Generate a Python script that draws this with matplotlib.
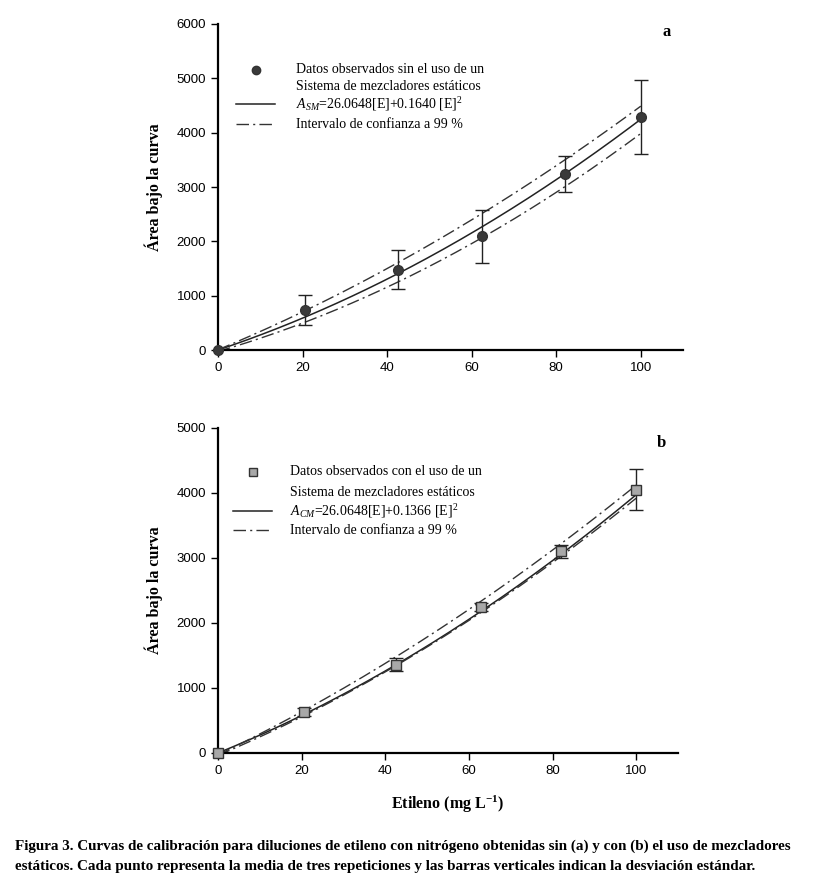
import numpy as np
import matplotlib
matplotlib.use('Agg')
import matplotlib.pyplot as plt

# Panel a: without static mixers
x_a = [0, 20.5, 42.5, 62.5, 82, 100]
y_a = [0, 740, 1480, 2090, 3240, 4290]
err_a = [0, 280, 355, 495, 325, 680]
coef_a = (26.0648, 0.1640)
band_x = [0, 20, 40, 60, 80, 100]
upper_a = [0, 700, 1520, 2390, 3370, 4500]
lower_a = [0, 460, 1140, 1960, 2960, 3950]

# Panel b: with static mixers
x_b = [0, 20.5, 42.5, 63, 82, 100]
y_b = [0, 630, 1360, 2240, 3100, 4050]
err_b = [0, 60, 105, 60, 95, 315]
coef_b = (26.0648, 0.1366)
upper_b = [0, 600, 1345, 2235, 3165, 4090]
lower_b = [0, 510, 1205, 2075, 2985, 3880]

serif = ['Liberation Serif', 'DejaVu Serif']
sans = ['Liberation Sans', 'DejaVu Sans']
plt.rcParams['font.family'] = sans
plt.rcParams['mathtext.fontset'] = 'custom'
plt.rcParams['mathtext.it'] = 'Liberation Serif:italic'
plt.rcParams['mathtext.rm'] = 'Liberation Serif'


def smooth(xs, ys):
    # quadratic through the read band values
    c = np.polyfit(xs, ys, 2)
    xx = np.linspace(0, 100, 200)
    return xx, np.polyval(c, xx)


def panel(ax, x, y, err, coef, up, lo, ymax, letter, marker, mfc, label1, eq):
    xx = np.linspace(0, 100, 200)
    ax.plot(xx, coef[0] * xx + coef[1] * xx ** 2, color='#222222', lw=1.1)
    for band in (up, lo):
        bx, by = smooth(band_x, band)
        ax.plot(bx, by, color='#333333', lw=1.0, dashes=(9, 3, 1.5, 3))
    ax.errorbar(x, y, yerr=err, fmt='none', ecolor='#222222', elinewidth=1.0,
                capsize=5, capthick=1.0)
    ax.plot(x, y, marker, color=mfc, mec='#333333', ms=7 if marker == 'o' else 6.5,
            mew=1.0, ls='none', zorder=5, clip_on=False)

    ax.set_xlim(0, 110)
    ax.set_ylim(0, ymax)
    ax.set_xticks([0, 20, 40, 60, 80, 100])
    ax.set_yticks(np.arange(0, ymax + 1, 1000))
    ax.spines['top'].set_visible(False)
    ax.spines['right'].set_visible(False)
    ax.spines['left'].set_linewidth(1.6)
    ax.spines['bottom'].set_linewidth(1.6)
    ax.tick_params(direction='out', length=5, width=1.0, labelsize=9.5)
    ax.set_ylabel('Área bajo la curva', family=serif, fontweight='bold', fontsize=11.5,
                  labelpad=10)
    ax.text(0.965, 0.975 if letter == 'a' else 0.955, letter, transform=ax.transAxes,
            family=serif, fontweight='bold', fontsize=12, ha='center', va='center')

    # legend drawn by hand
    tr = ax.transAxes
    mx, tx = (0.0817, 0.168) if letter == 'a' else (0.076, 0.157)
    rows = [0.860, 0.809, 0.755, 0.693] if letter == 'a' else [0.865, 0.803, 0.745, 0.686]
    h0, h1 = (0.039, 0.123) if letter == 'a' else (0.033, 0.117)
    ax.plot([mx], [rows[0]], marker, color=mfc, mec='#333333',
            ms=6 if marker == 'o' else 5.5, mew=1.0, transform=tr, clip_on=False)
    ax.plot([h0, h1], [rows[2], rows[2]], color='#222222', lw=1.1, transform=tr)
    ax.plot([h0, h1], [rows[3], rows[3]], color='#333333', lw=1.0,
            dashes=(9, 3, 1.5, 3), transform=tr)
    fs = 10
    ax.text(tx, rows[0], label1, transform=tr, family=serif, fontsize=fs, va='center')
    ax.text(tx, rows[1], 'Sistema de mezcladores estáticos', transform=tr, family=serif,
            fontsize=fs, va='center')
    ax.text(tx, rows[2], eq, transform=tr, family=serif, fontsize=fs, va='center')
    ax.text(tx, rows[3], 'Intervalo de confianza a 99 %', transform=tr, family=serif,
            fontsize=fs, va='center')


fig = plt.figure(figsize=(8.15, 8.85), dpi=100)
ax1 = fig.add_axes([0.2675, 0.6045, 0.5706, 0.3684])
ax2 = fig.add_axes([0.2675, 0.1492, 0.5644, 0.3672])

panel(ax1, x_a, y_a, err_a, coef_a, upper_a, lower_a, 6000, 'a', 'o', '#3a3a3a',
      'Datos observados sin el uso de un',
      r'$A_{SM}$=26.0648[E]+0.1640 [E]$^{2}$')
panel(ax2, x_b, y_b, err_b, coef_b, upper_b, lower_b, 5000, 'b', 's', '#a8a8a8',
      'Datos observados con el uso de un',
      r'$A_{CM}$=26.0648[E]+0.1366 [E]$^{2}$')

ax2.set_xlabel('Etileno (mg L$^{\\mathregular{-1}}$)', family=serif, fontweight='bold',
               fontsize=11.5, labelpad=12)

fig.text(0.018, 0.032,
         'Figura 3. Curvas de calibración para diluciones de etileno con nitrógeno '
         'obtenidas sin (a) y con (b) el uso de mezcladores\n'
         'estáticos. Cada punto representa la media de tres repeticiones y las barras '
         'verticales indican la desviación estándar.',
         family=serif, fontweight='bold', fontsize=10.9, va='center', linespacing=1.7)

fig.savefig('out.png', dpi=100, facecolor='white')
